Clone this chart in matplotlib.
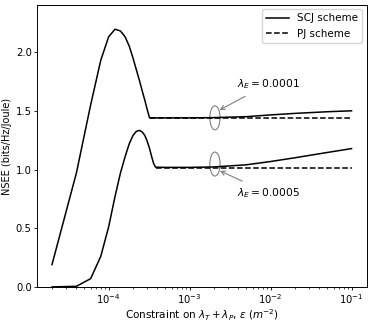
import matplotlib
matplotlib.use('Agg')
import matplotlib.pyplot as plt
from matplotlib.patches import Ellipse

# SCJ scheme, lambda_E = 0.0001
x_scj1 = [2e-5, 4e-5, 6e-5, 8e-5, 1e-4, 1.2e-4, 1.4e-4, 1.6e-4, 1.8e-4, 2e-4,
          2.2e-4, 2.4e-4, 2.6e-4, 2.8e-4, 3.0e-4, 3.2e-4, 5e-4, 1e-3, 2e-3,
          5e-3, 1e-2, 2e-2, 5e-2, 1e-1]
y_scj1 = [0.19, 0.97, 1.55, 1.93, 2.13, 2.195, 2.18, 2.13, 2.05, 1.95,
          1.85, 1.76, 1.67, 1.59, 1.51, 1.44, 1.44, 1.44, 1.442,
          1.45, 1.465, 1.478, 1.492, 1.50]

# SCJ scheme, lambda_E = 0.0005
x_scj2 = [2e-5, 4e-5, 6e-5, 8e-5, 1e-4, 1.2e-4, 1.4e-4, 1.6e-4, 1.8e-4, 2e-4,
          2.2e-4, 2.4e-4, 2.6e-4, 2.8e-4, 3.0e-4, 3.2e-4, 3.4e-4, 3.6e-4,
          3.8e-4, 5e-4, 1e-3, 2e-3, 5e-3, 1e-2, 2e-2, 5e-2, 1e-1]
y_scj2 = [0.0, 0.005, 0.07, 0.26, 0.51, 0.77, 0.97, 1.11, 1.22, 1.29,
          1.325, 1.333, 1.32, 1.29, 1.24, 1.18, 1.11, 1.05,
          1.02, 1.018, 1.018, 1.022, 1.04, 1.068, 1.10, 1.145, 1.178]

# PJ scheme
x_pj1 = [3.2e-4, 1e-1]
y_pj1 = [1.438, 1.438]
x_pj2 = [3.8e-4, 1e-1]
y_pj2 = [1.017, 1.017]

plt.rcParams['font.size'] = 7.5
for a in ('xtick', 'ytick'):
    plt.rcParams[a + '.labelsize'] = 7.2
    plt.rcParams[a + '.major.size'] = 2
    plt.rcParams[a + '.minor.size'] = 1.2
    plt.rcParams[a + '.major.pad'] = 1.8
    plt.rcParams[a + '.major.width'] = 0.6
    plt.rcParams[a + '.minor.width'] = 0.5
plt.rcParams['axes.linewidth'] = 0.7

fig = plt.figure(figsize=(3.74, 3.22), dpi=100)
ax = fig.add_axes([0.099, 0.109, 0.881, 0.875])

ax.plot(x_scj1, y_scj1, 'k-', lw=1.1, label='SCJ scheme')
ax.plot(x_pj1, y_pj1, 'k--', lw=1.1, label='PJ scheme')
ax.plot(x_scj2, y_scj2, 'k-', lw=1.1)
ax.plot(x_pj2, y_pj2, 'k--', lw=1.1)

ax.set_xscale('log')
ax.set_ylim(0, 2.4)
ax.set_xlabel(r'Constraint on $\lambda_T + \lambda_P$, $\varepsilon$ ($m^{-2}$)',
              fontsize=7.5, labelpad=1)
ax.set_ylabel('NSEE (bits/Hz/Joule)', fontsize=7, labelpad=3)

ax.add_patch(Ellipse((0.540, 0.60), 0.031, 0.085, transform=ax.transAxes,
                     fill=False, ec='gray', lw=0.8))
ax.add_patch(Ellipse((0.540, 0.436), 0.031, 0.085, transform=ax.transAxes,
                     fill=False, ec='gray', lw=0.8))

ax.annotate(r'$\lambda_E = 0.0001$', xy=(0.554, 0.628), xycoords='axes fraction',
            xytext=(0.702, 0.72), textcoords='axes fraction', ha='center', va='center',
            fontsize=7.7,
            arrowprops=dict(arrowstyle='->', color='gray', lw=0.8, shrinkA=4, shrinkB=0))
ax.annotate(r'$\lambda_E = 0.0005$', xy=(0.555, 0.412), xycoords='axes fraction',
            xytext=(0.702, 0.333), textcoords='axes fraction', ha='center', va='center',
            fontsize=7.7,
            arrowprops=dict(arrowstyle='->', color='gray', lw=0.8, shrinkA=4, shrinkB=0))

ax.legend(loc='upper right', handlelength=2.2, borderaxespad=0.4)

fig.savefig('out.png', dpi=100)
